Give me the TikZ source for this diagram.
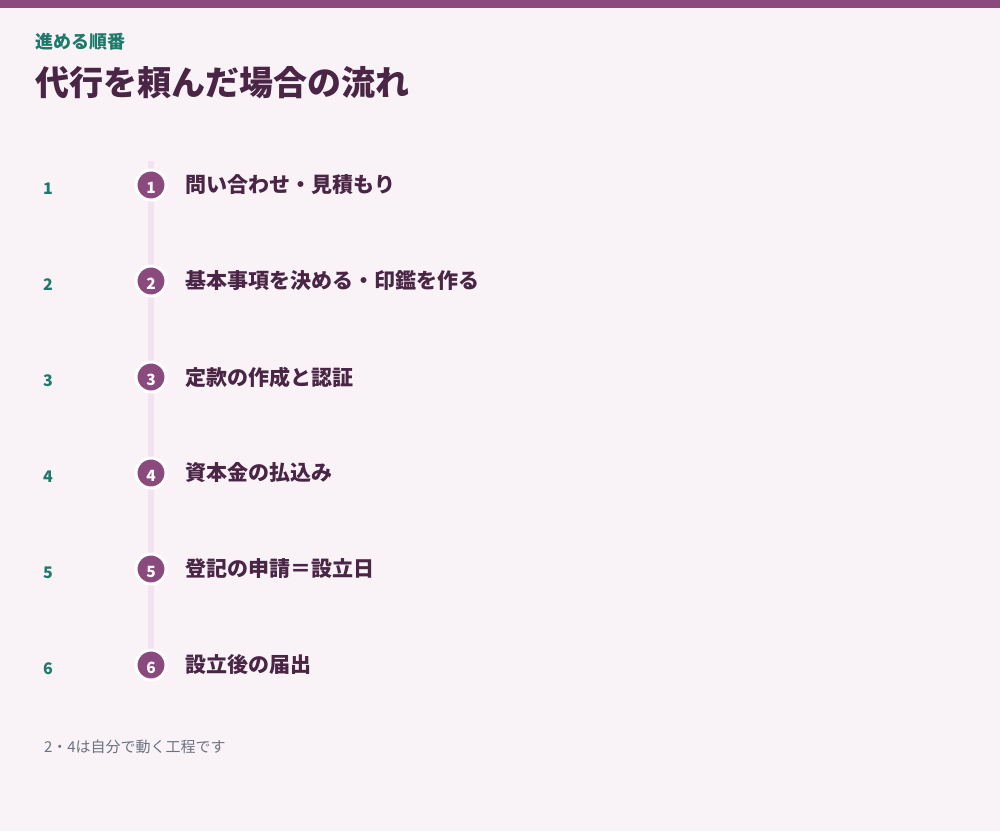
\documentclass[tikz,border=0pt]{standalone}
\usepackage{fontspec}
\setmainfont{Noto Sans CJK JP}
\newfontfamily\jp{Noto Sans CJK JP}
\definecolor{bg}{HTML}{F9F3F8}
\definecolor{bar}{HTML}{8B4A7E}
\definecolor{dark}{HTML}{4A2545}
\definecolor{teal}{HTML}{1E7A6A}
\definecolor{rail}{HTML}{F2E3EE}
\definecolor{note}{HTML}{6B7280}
\begin{document}
\begin{tikzpicture}[x=1pt,y=-1pt,
  every node/.style={inner sep=0pt,outer sep=0pt},
  stepnum/.style={anchor=center,text=teal,font=\jp\fontsize{16}{16}\selectfont\bfseries},
  dot/.style={circle,fill=bar,draw=white,line width=3pt,minimum size=30pt},
  dotnum/.style={anchor=center,text=white,font=\jp\fontsize{15.5}{15.5}\selectfont\bfseries},
  steplabel/.style={anchor=west,text=dark,font=\jp\fontsize{21}{21}\selectfont\bfseries}]
\fill[bg] (0,0) rectangle (1000,831);
\fill[bar] (0,0) rectangle (1000,8);
\node[anchor=west,text=teal,font=\jp\fontsize{18}{18}\selectfont\bfseries] (sub) at (35,42) {進める順番};
\node[anchor=west,text=dark,font=\jp\fontsize{34}{34}\selectfont\bfseries] (title) at (35,83) {代行を頼んだ場合の流れ};
\coordinate (railtop) at (151,161);
\coordinate (railbot) at (151,665);
\fill[rail] (148,161) rectangle (154,665);
\foreach \i/\t in {1/問い合わせ・見積もり,2/基本事項を決める・印鑑を作る,3/定款の作成と認証,4/資本金の払込み,5/登記の申請＝設立日,6/設立後の届出}{
  \pgfmathsetmacro{\yy}{185+96*(\i-1)}
  \node[stepnum] (n\i) at (48,\yy+3.5) {\i};
  \node[dot] (c\i) at (151,\yy) {};
  \node[dotnum] (d\i) at (151,\yy+3) {\i};
  \node[steplabel] (l\i) at (185,\yy) {\t};
}
\node[anchor=west,text=note,font=\jp\fontsize{15}{15}\selectfont] (foot) at (44,747) {2・4は自分で動く工程です};
\end{tikzpicture}
\end{document}
